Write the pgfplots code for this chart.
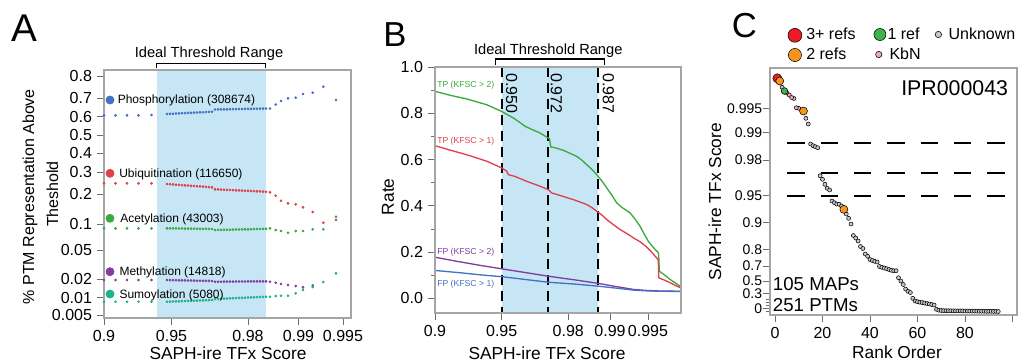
\documentclass[border=0pt]{standalone}
\usepackage{fontspec}
\setmainfont{Liberation Sans}
\usepackage{pgfplots}
\pgfplotsset{compat=1.18}
\definecolor{cBlue}{RGB}{68,114,196}
\definecolor{cRed}{RGB}{224,64,76}
\definecolor{cGreen}{RGB}{58,170,64}
\definecolor{cPurple}{RGB}{128,62,160}
\definecolor{cTeal}{RGB}{30,178,140}
\definecolor{cShade}{RGB}{198,230,246}
\definecolor{cAxis}{RGB}{165,165,165}
\definecolor{cTick}{RGB}{110,110,110}
\definecolor{kRed}{RGB}{237,28,36}
\definecolor{kOrange}{RGB}{247,148,30}
\definecolor{kGreen}{RGB}{57,181,74}
\definecolor{kPink}{RGB}{244,166,186}
\definecolor{kGray}{RGB}{200,200,200}
\newcommand\fs[1]{\fontsize{#1}{#1}\selectfont}
\pgfplotsset{
  panel/.style={scale only axis, anchor=south west, axis on top,
    axis line style={cAxis, line width=0.9pt},
    tick style={cTick, line width=0.7pt}, tick align=outside,
    major tick length=5.5pt, minor tick length=3pt,
    xtick pos=bottom, ytick pos=left,
    tick label style={font=\fs{12}}},
  adot/.style={only marks, mark=*, mark size=0.8pt, mark options={draw=none}},
  cdot/.style={only marks, mark=*, mark options={draw=black!65, line width=0.4pt}},
}
\begin{document}
\begin{tikzpicture}
% ---------------- Panel A ----------------
\begin{axis}[panel, at={(78pt,-238.5pt)}, width=185.25pt, height=186pt,
  xmin=104, xmax=351, ymin=70, ymax=318, y dir=reverse,
  xtick={104,171.5,248,298.5,343}, xticklabels={0.9,0.95,0.98,0.99,0.995},
  ytick={76,98.3,116.7,135,153.3,172.3,194,224.3,250,279.3,297.7,315},
  yticklabels={0.8,0.7,0.6,0.5,0.4,0.3,0.2,0.1,0.05,0.02,0.01,0.005}]
\fill[cShade] (axis cs:157,70) rectangle (axis cs:266,318);
% Phosphorylation
\addplot[adot, cBlue] coordinates {
(104,115.3)(115.5,115.3)(127,115.3)(138.5,115.3)(151.5,115.0)
(167,114.0)(170,113.8)(173,113.7)(176,113.5)(179,113.4)(182,113.2)(185,113.1)(188,112.9)
(191,112.8)(194,112.6)(197,112.5)(200,112.3)(203,112.2)(206,112.0)(209,111.9)(212,111.7)
(215,109.5)(218,109.4)(221,109.4)(224,109.3)(227,109.3)(230,109.2)(233,109.1)(236,109.1)(239,109.0)
(242,109.0)(245,108.9)(248,108.9)(251,108.8)(254,108.7)(257,108.7)(260,108.6)(263,108.6)(266,108.5)
(270,108.5)(275.7,104.5)(281,101.0)(288,98.3)(295.7,97.7)(303,94.0)(312.7,92.7)(323.3,86.7)(336,100.0)};
% Ubiquitination
\addplot[adot, cRed] coordinates {
(104,183.3)(115.5,183.3)(127,183.3)(138.5,183.3)(151.5,183.3)
(167,184.0)(170,184.2)(173,184.4)(176,184.7)(179,184.9)(182,185.1)(185,185.3)(188,185.5)
(191,185.8)(194,186.0)(197,186.2)(200,186.4)(203,186.6)(206,186.9)(209,187.1)(212,187.3)
(215,189.3)(218,189.4)(221,189.6)(224,189.7)(227,189.9)(230,190.0)(233,190.1)(236,190.3)(239,190.4)
(242,190.6)(245,190.7)(248,190.8)(251,191.0)(254,191.1)(257,191.3)(260,191.4)(263,191.6)(266,191.7)
(270,192.3)(275.7,195.7)(281,200.7)(288,203.3)(295.7,204.3)(303,207.3)(312.7,212.0)(323.3,222.7)(336,220.0)};
% Acetylation
\addplot[adot, cGreen] coordinates {
(104,228.3)(115.5,228.3)(127,228.3)(138.5,228.3)(151.5,228.3)
(167,228.3)(170,228.3)(173,228.4)(176,228.4)(179,228.5)(182,228.5)(185,228.6)(188,228.6)
(191,228.6)(194,228.7)(197,228.7)(200,228.8)(203,228.8)(206,228.9)(209,228.9)(212,229.0)
(215,230.0)(218,229.9)(221,229.9)(224,229.8)(227,229.7)(230,229.7)(233,229.6)(236,229.5)(239,229.5)
(242,229.4)(245,229.3)(248,229.3)(251,229.2)(254,229.1)(257,229.0)(260,229.0)(263,228.9)(266,228.8)
(270,228.3)(275.7,230.0)(281,231.0)(288,232.7)(295.7,231.0)(303,231.0)(312.7,229.3)(323.3,229.3)(336,216.7)};
% Methylation
\addplot[adot, cPurple] coordinates {
(104,280.0)(115.5,280.0)(127,280.0)(138.5,280.0)(151.5,280.0)
(167,280.0)(170,280.1)(173,280.1)(176,280.2)(179,280.3)(182,280.3)(185,280.4)(188,280.5)
(191,280.5)(194,280.6)(197,280.7)(200,280.7)(203,280.8)(206,280.9)(209,280.9)(212,281.0)
(215,281.7)(218,281.7)(221,281.7)(224,281.6)(227,281.6)(230,281.6)(233,281.6)(236,281.5)(239,281.5)
(242,281.5)(245,281.5)(248,281.4)(251,281.4)(254,281.4)(257,281.4)(260,281.3)(263,281.3)(266,281.3)
(270,281.7)(275.7,282.7)(281,284.0)(288,285.0)(295.7,286.0)(303,287.3)(312.7,285.5)};
% Sumoylation
\addplot[adot, cTeal] coordinates {
(104,301.7)(115.5,301.7)(127,301.7)(138.5,301.7)(151.5,301.7)
(167,301.7)(170,301.6)(173,301.5)(176,301.4)(179,301.3)(182,301.1)(185,301.0)(188,300.9)
(191,300.8)(194,300.7)(197,300.6)(200,300.5)(203,300.3)(206,300.2)(209,300.1)(212,300.0)
(215,299.0)(218,298.9)(221,298.7)(224,298.6)(227,298.5)(230,298.3)(233,298.2)(236,298.1)(239,297.9)
(242,297.8)(245,297.7)(248,297.5)(251,297.4)(254,297.3)(257,297.1)(260,297.0)(263,296.9)(266,296.7)
(270,296.7)(275.7,296.0)(281,295.7)(288,295.7)(295.7,293.3)(303,290.0)(312.7,287.0)(323.3,282.0)(336,273.3)};
% label markers
\addplot[only marks, mark=*, mark size=3.1pt, cBlue, mark options={draw=none}] coordinates {(110,100)};
\addplot[only marks, mark=*, mark size=3.1pt, cRed, mark options={draw=none}] coordinates {(110,173.3)};
\addplot[only marks, mark=*, mark size=3.1pt, cGreen, mark options={draw=none}] coordinates {(110,218.3)};
\addplot[only marks, mark=*, mark size=3.1pt, cPurple, mark options={draw=none}] coordinates {(110,271.7)};
\addplot[only marks, mark=*, mark size=3.1pt, cTeal, mark options={draw=none}] coordinates {(110,294)};
\end{axis}
% ---------------- Panel B ----------------
\begin{axis}[panel, at={(326.25pt,-234.75pt)}, width=184.5pt, height=184.5pt,
  xmin=435, xmax=681, ymin=-0.063, ymax=1.0,
  xtick={435,501.7,568.3,610,648}, xticklabels={0.9,0.95,0.98,0.99,0.995},
  ytick={0,0.2,0.4,0.6,0.8,1.0}, minor ytick={0.1,0.3,0.5,0.7,0.9},
  yticklabel style={/pgf/number format/.cd, fixed, fixed zerofill, precision=1, assume math mode=true}]
\fill[cShade] (axis cs:501.7,-0.063) rectangle (axis cs:597.7,1.0);
\addplot[black, line width=1.3pt, dash pattern=on 7.5pt off 4.5pt] coordinates {(501.7,1.0)(501.7,-0.063)};
\addplot[black, line width=1.3pt, dash pattern=on 7.5pt off 4.5pt] coordinates {(547.7,1.0)(547.7,-0.063)};
\addplot[black, line width=1.3pt, dash pattern=on 7.5pt off 4.5pt] coordinates {(597.7,1.0)(597.7,-0.063)};
% TP (KFSC > 2)
\addplot[cGreen, line width=1pt] coordinates {
(435,0.895)(450,0.878)(466.7,0.862)(486.7,0.837)(501.7,0.808)(507,0.795)(513.3,0.78)(520,0.76)
(525,0.744)(532,0.73)(540,0.715)(548.3,0.693)(549.5,0.69)(550.7,0.655)(556,0.65)(563.3,0.64)
(570,0.627)(576.7,0.614)(582,0.597)(586.7,0.578)(592,0.557)(596.7,0.535)(602,0.507)(606.7,0.478)
(612,0.445)(616.7,0.413)(622,0.393)(630,0.37)(635,0.343)(640,0.312)(644,0.28)(648.3,0.247)
(653,0.222)(658.3,0.197)(658.7,0.19)(659.3,0.118)(665,0.1)(670,0.082)(675,0.068)(681,0.05)};
% TP (KFSC > 1)
\addplot[cRed, line width=1pt] coordinates {
(435,0.66)(450,0.641)(466.7,0.621)(486.7,0.593)(501.7,0.564)(506.7,0.55)(508.3,0.535)(515,0.527)
(526.7,0.506)(540,0.485)(548.3,0.47)(551.7,0.456)(560,0.445)(573.3,0.427)(586.7,0.406)(592,0.392)
(596.7,0.377)(602,0.36)(606.7,0.341)(613,0.32)(620,0.298)(627,0.28)(633.3,0.262)(640,0.245)
(646.7,0.222)(651,0.203)(656.7,0.175)(658.3,0.165)(658.8,0.089)(665,0.078)(670,0.068)(675,0.057)(681,0.045)};
% FP (KFSC > 2)
\addplot[cPurple, line width=1pt] coordinates {
(435,0.178)(460,0.158)(480,0.143)(501.7,0.128)(525,0.112)(548.3,0.096)(575,0.08)(598.3,0.065)
(615,0.052)(633.3,0.039)(645,0.035)(660,0.032)(681,0.031)};
% FP (KFSC > 1)
\addplot[cBlue, line width=1pt] coordinates {
(435,0.121)(460,0.111)(480,0.102)(501.7,0.094)(525,0.082)(548.3,0.07)(575,0.062)(598.3,0.053)
(615,0.045)(633.3,0.036)(645,0.033)(660,0.031)(681,0.030)};
\end{axis}
% ---------------- Panel C ----------------
\begin{axis}[panel, at={(577.5pt,-236.25pt)}, width=185.25pt, height=185.25pt,
  xmin=-2.1, xmax=101.9, ymin=68, ymax=315, y dir=reverse, clip=false,
  xtick={0,20,40,60,80,100}, xticklabels={0,20,40,60,80,{}},
  ytick={108.3,132.7,160,195.7,222.7,249.3,266,281,293.3,308.3},
  yticklabels={0.995,0.99,0.98,0.95,0.9,0.8,0.7,0.5,0.3,0},
  yticklabel style={font=\fs{10.5}, inner sep=0.2pt},
  minor ytick={299,302,305,311.5}]
\addplot[black, line width=1.3pt, dash pattern=on 13pt off 12pt, dash phase=12pt] coordinates {(-2.1,142.7)(101.9,142.7)};
\addplot[black, line width=1.3pt, dash pattern=on 13pt off 12pt, dash phase=12pt] coordinates {(-2.1,172.7)(101.9,172.7)};
\addplot[black, line width=1.3pt, dash pattern=on 13pt off 12pt, dash phase=12pt] coordinates {(-2.1,195.7)(101.9,195.7)};
% Unknown
\addplot[cdot, mark size=1.5pt, mark options={fill=kGray}] coordinates {
(8,98.5)(10,108.3)(13,118.3)(14,124)(15,144)(16,145.7)(17,146.7)(18,147.7)
(19,175.7)(20,179.3)(21,184.3)(22,188.3)(23,190)(24,201)(25,202.7)(26,204)(27,204.3)(28,206)
(30,214)(31,218.3)(32,224)(33,235.5)(34,238)(35,241)(36,246.5)(37,248.5)(38,254)(39,256.3)
(40,259.5)(41,260.5)(42,261.3)(43,262)(44,266.5)(45,267.3)(46,268)(47,268.7)(48,269.5)(49,270.3)
(50,270.7)(51,270.7)(52,277.7)(53,281)(54,284.5)(55,289)(56,291.3)(57,292.5)(58,298.3)(59,301)
(60,301.7)(61,302.2)(62,302.6)(63,303)(64,303.5)(65,304)(66,304.5)(67,305)(68,309.3)(69,310.2)
(70,310.5)(71,310.6)(72,310.7)(73,310.7)(74,310.8)(75,310.8)(76,310.8)(77,310.9)(78,310.9)(79,310.9)
(80,311.0)(81,311.0)(82,311.0)(83,311.1)(84,311.1)(85,311.1)(86,311.2)(87,311.2)(88,311.2)(89,311.3)
(90,311.3)(91,311.3)(92,311.4)(93,311.4)(94,311.5)};
% KbN
\addplot[cdot, mark size=1.5pt, mark options={fill=kPink}] coordinates {(3,87.3)(5,93)(6,95)(7,97.5)(9,107.7)};
% 1 ref
\addplot[cdot, mark size=2.5pt, mark options={fill=kGreen}] coordinates {(4,91)};
% 3+ refs
\addplot[cdot, mark size=3.4pt, mark options={fill=kRed}] coordinates {(1,78.3)};
% 2 refs
\addplot[cdot, mark size=3.0pt, mark options={fill=kOrange}] coordinates {(2,81)(12,111)(29,209.3)};
% legend markers
\addplot[cdot, mark size=5.2pt, mark options={fill=kRed}] coordinates {(8.4,35.3)};
\addplot[cdot, mark size=4.5pt, mark options={fill=kGreen}] coordinates {(44.2,34.5)};
\addplot[cdot, mark size=2.4pt, mark options={fill=kGray}] coordinates {(68.8,34.5)};
\addplot[cdot, mark size=4.9pt, mark options={fill=kOrange}] coordinates {(8.4,55)};
\addplot[cdot, mark size=2.4pt, mark options={fill=kPink}] coordinates {(43.7,54.5)};
\end{axis}
% ---------------- Text ----------------
\begin{scope}[x=0.75pt,y=-0.75pt]
% panel letters
\node[anchor=base west, inner sep=0pt, font=\fs{29}] at (11,41.7) {A};
\node[anchor=base west, inner sep=0pt, font=\fs{26}] at (383,46.5) {B};
\node[anchor=base west, inner sep=0pt, font=\fs{26}] at (731.5,37.5) {C};
% Panel A
\node[anchor=base, inner sep=0pt, font=\fs{11}] at (209,57) {Ideal Threshold Range};
\draw[black, line width=1pt] (156.7,68.3) -- (156.7,63.3) -- (265.7,63.3) -- (265.7,68.3);
\node[rotate=90, inner sep=0pt, font=\fs{12}] at (30,196.7) {\% PTM Representation Above};
\node[rotate=90, inner sep=0pt, font=\fs{12}] at (52.5,194) {Theshold};
\node[anchor=base, inner sep=0pt, font=\fs{13}] at (228,359.5) {SAPH-ire TFx Score};
\node[anchor=base west, inner sep=0pt, font=\fs{9}] at (117.5,103.5) {Phosphorylation (308674)};
\node[anchor=base west, inner sep=0pt, font=\fs{9}] at (119,177.3) {Ubiquitination (116650)};
\node[anchor=base west, inner sep=0pt, font=\fs{9}] at (120,222.3) {Acetylation (43003)};
\node[anchor=base west, inner sep=0pt, font=\fs{9}] at (119.3,275.7) {Methylation (14818)};
\node[anchor=base west, inner sep=0pt, font=\fs{9}] at (119.3,298) {Sumoylation (5080)};
% Panel B
\node[anchor=base, inner sep=0pt, font=\fs{11}] at (548.3,54) {Ideal Threshold Range};
\draw[black, line width=1pt] (495.7,65) -- (495.7,59) -- (604.3,59) -- (604.3,65);
\node[rotate=90, inner sep=0pt, font=\fs{13}] at (388,196.7) {Rate};
\node[anchor=base, inner sep=0pt, font=\fs{13}] at (547,359) {SAPH-ire TFx Score};
\node[rotate=-90, inner sep=0pt, font=\fs{12}] at (511.7,93.5) {0.950};
\node[rotate=-90, inner sep=0pt, font=\fs{12}] at (556.5,93.5) {0.972};
\node[rotate=-90, inner sep=0pt, font=\fs{12}] at (608.5,93.5) {0.987};
\node[anchor=west, inner sep=0pt, font=\fs{6.5}, text=cGreen] at (437,85.7) {TP (KFSC > 2)};
\node[anchor=west, inner sep=0pt, font=\fs{6.5}, text=cRed] at (437,141.5) {TP (KFSC > 1)};
\node[anchor=west, inner sep=0pt, font=\fs{6.5}, text=cPurple] at (437,252.7) {FP (KFSC > 2)};
\node[anchor=west, inner sep=0pt, font=\fs{6.5}, text=cBlue] at (437,284.3) {FP (KFSC > 1)};
% Panel C
\node[rotate=90, inner sep=0pt, font=\fs{13}] at (715,201.7) {SAPH-ire TFx Score};
\node[anchor=base, inner sep=0pt, font=\fs{13}] at (897,358) {Rank Order};
\node[anchor=base east, inner sep=0pt, font=\fs{16}] at (1008.3,95) {IPR000043};
\node[anchor=base west, inner sep=0pt, font=\fs{14}] at (772.7,290) {105 MAPs};
\node[anchor=base west, inner sep=0pt, font=\fs{14}] at (772.7,311.7) {251 PTMs};
\node[anchor=base west, inner sep=0pt, font=\fs{12}] at (806,39.5) {3+ refs};
\node[anchor=base west, inner sep=0pt, font=\fs{12}] at (887.3,39.5) {1 ref};
\node[anchor=base west, inner sep=0pt, font=\fs{12}] at (948.3,39.5) {Unknown};
\node[anchor=base west, inner sep=0pt, font=\fs{12}] at (806,59.5) {2 refs};
\node[anchor=base west, inner sep=0pt, font=\fs{12}] at (889.3,59.5) {KbN};
\end{scope}
\pgfresetboundingbox
\path[use as bounding box] (0,0) rectangle (765.75pt,-271.5pt);
\end{tikzpicture}
\end{document}
